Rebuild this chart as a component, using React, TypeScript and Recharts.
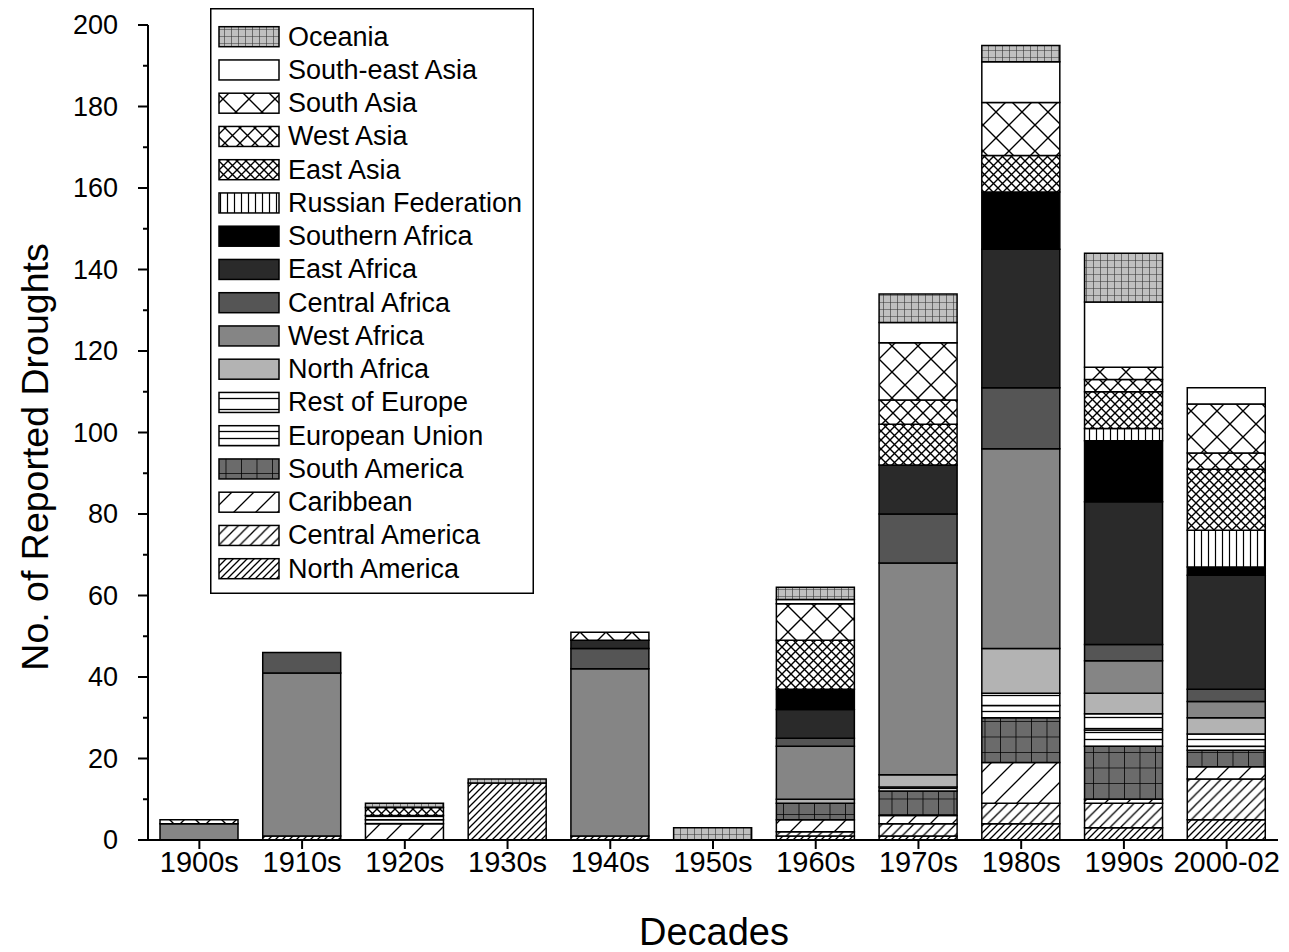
import React from 'react';
import { BarChart, Bar, XAxis, YAxis, Legend } from 'recharts';

// decades on the x axis
const decades = ['1900s', '1910s', '1920s', '1930s', '1940s', '1950s', '1960s', '1970s', '1980s', '1990s', '2000-02'];

// reported droughts per region, one value per decade
const northAmerica = [0, 1, 0, 14, 1, 0, 1, 1, 4, 3, 5];
const centralAmerica = [0, 0, 0, 0, 0, 0, 1, 3, 5, 6, 10];
const caribbean = [0, 0, 4, 0, 0, 0, 3, 2, 10, 1, 3];
const southAmerica = [0, 0, 0, 0, 0, 0, 4, 6, 11, 13, 4];
const europeanUnion = [0, 0, 1, 0, 0, 0, 0, 1, 3, 4, 1];
const restOfEurope = [0, 0, 1, 0, 0, 0, 0, 0, 3, 4, 3];
const northAfrica = [0, 0, 0, 0, 0, 0, 1, 3, 11, 5, 4];
const westAfrica = [4, 40, 0, 0, 41, 0, 13, 52, 49, 8, 4];
const centralAfrica = [0, 5, 0, 0, 5, 0, 2, 12, 15, 4, 3];
const eastAfrica = [0, 0, 0, 0, 2, 0, 7, 12, 34, 35, 28];
const southernAfrica = [0, 0, 0, 0, 0, 0, 5, 0, 14, 15, 2];
const russianFederation = [0, 0, 0, 0, 0, 0, 0, 0, 0, 3, 9];
const eastAsia = [0, 0, 2, 0, 0, 0, 12, 10, 9, 9, 15];
const westAsia = [0, 0, 0, 0, 0, 0, 0, 6, 0, 3, 4];
const southAsia = [1, 0, 0, 0, 2, 0, 9, 14, 13, 3, 12];
const southeastAsia = [0, 0, 0, 0, 0, 0, 1, 5, 10, 16, 4];
const oceania = [0, 0, 1, 1, 0, 3, 3, 7, 4, 12, 0];

const yTicks = [0, 10, 20, 30, 40, 50, 60, 70, 80, 90, 100, 110, 120, 130, 140, 150, 160, 170, 180, 190, 200];

// bottom of the stack first
const series = [
  { key: 'na', name: 'North America', values: northAmerica },
  { key: 'ca', name: 'Central America', values: centralAmerica },
  { key: 'car', name: 'Caribbean', values: caribbean },
  { key: 'sa', name: 'South America', values: southAmerica },
  { key: 'eu', name: 'European Union', values: europeanUnion },
  { key: 'roe', name: 'Rest of Europe', values: restOfEurope },
  { key: 'naf', name: 'North Africa', values: northAfrica },
  { key: 'waf', name: 'West Africa', values: westAfrica },
  { key: 'caf', name: 'Central Africa', values: centralAfrica },
  { key: 'eaf', name: 'East Africa', values: eastAfrica },
  { key: 'saf', name: 'Southern Africa', values: southernAfrica },
  { key: 'rf', name: 'Russian Federation', values: russianFederation },
  { key: 'eas', name: 'East Asia', values: eastAsia },
  { key: 'was', name: 'West Asia', values: westAsia },
  { key: 'sas', name: 'South Asia', values: southAsia },
  { key: 'sea', name: 'South-east Asia', values: southeastAsia },
  { key: 'oc', name: 'Oceania', values: oceania },
];

const data = decades.map((decade, i) => {
  const row: Record<string, any> = { decade };
  series.forEach((s) => { row[s.key] = s.values[i]; });
  return row;
});

const FONT = '"Liberation Sans", Arial, sans-serif';
const PLOT_LEFT = 140;

const solid: Record<string, string> = {
  sea: '#ffffff',
  saf: '#000000',
  eaf: '#2a2a2a',
  caf: '#555555',
  waf: '#858585',
  naf: '#b3b3b3',
};

const fillFor = (prefix: string, key: string) => solid[key] || `url(#${prefix}-${key})`;

function Patterns({ p }: { p: string }) {
  const diag = (key: string, s: number) => (
    <pattern id={`${p}-${key}`} width={s} height={s} patternUnits="userSpaceOnUse">
      <rect width={s} height={s} fill="#fff" />
      <path
        d={`M0,${s} L${s},0 M${-s / 4},${s / 4} L${s / 4},${-s / 4} M${(3 * s) / 4},${(5 * s) / 4} L${(5 * s) / 4},${(3 * s) / 4}`}
        stroke="#000"
        strokeWidth={1.3}
      />
    </pattern>
  );
  const cross = (key: string, s: number) => (
    <pattern id={`${p}-${key}`} width={s} height={s} patternUnits="userSpaceOnUse">
      <rect width={s} height={s} fill="#fff" />
      <path d={`M0,0 L${s},${s} M${s},0 L0,${s}`} stroke="#000" strokeWidth={1.4} />
    </pattern>
  );
  const hlines = (key: string, s: number) => (
    <pattern id={`${p}-${key}`} width={10} height={s} patternUnits="userSpaceOnUse">
      <rect width={10} height={s} fill="#fff" />
      <line x1={0} x2={10} y1={s / 2} y2={s / 2} stroke="#000" strokeWidth={1.3} />
    </pattern>
  );
  const grid = (key: string, s: number, bg: string, line: string, w: number) => (
    <pattern id={`${p}-${key}`} width={s} height={s} patternUnits="userSpaceOnUse">
      <rect width={s} height={s} fill={bg} />
      <path d={`M0,0 L${s},0 M0,0 L0,${s}`} stroke={line} strokeWidth={w} />
    </pattern>
  );
  return (
    <defs>
      {diag('na', 7)}
      {diag('ca', 10.5)}
      {diag('car', 22)}
      {grid('sa', 15.5, '#6b6b6b', '#000', 1.6)}
      {hlines('eu', 7)}
      {hlines('roe', 11)}
      <pattern id={`${p}-rf`} width={7} height={10} patternUnits="userSpaceOnUse">
        <rect width={7} height={10} fill="#fff" />
        <line x1={3.5} x2={3.5} y1={0} y2={10} stroke="#000" strokeWidth={1.2} />
      </pattern>
      {cross('eas', 9)}
      {cross('was', 15)}
      {cross('sas', 26)}
      {grid('oc', 7, '#c0c0c0', '#333', 1.2)}
    </defs>
  );
}

function YTick(props: any) {
  const { y, payload } = props;
  const v = payload.value;
  const major = v % 20 === 0;
  return (
    <g>
      <line x1={PLOT_LEFT - (major ? 10 : 5)} x2={PLOT_LEFT} y1={y} y2={y} stroke="#000" strokeWidth={2} />
      {major && (
        <text x={PLOT_LEFT - 30} y={y} textAnchor="end" dominantBaseline="central" fontSize={27} fontFamily={FONT} fill="#000">
          {v}
        </text>
      )}
    </g>
  );
}

function LegendBox() {
  const items = [...series].reverse();
  return (
    <svg width={324} height={586} style={{ display: 'block' }}>
      <Patterns p="lg" />
      <rect x={0.75} y={0.75} width={322.5} height={584.5} fill="#fff" stroke="#000" strokeWidth={1.5} />
      {items.map((s, i) => {
        const top = 18.7 + 33.25 * i;
        return (
          <g key={s.key}>
            <rect x={9} y={top} width={60} height={20} fill={fillFor('lg', s.key)} stroke="#000" strokeWidth={1.5} />
            <text x={78} y={top + 10} dominantBaseline="central" fontSize={27} fontFamily={FONT} fill="#000">
              {s.name}
            </text>
          </g>
        );
      })}
    </svg>
  );
}

export default function App() {
  return (
    <div style={{ width: 1281, height: 944, fontFamily: FONT, position: 'relative' }}>
      <BarChart width={1281} height={944} data={data} margin={{ top: 17, right: 11, left: 0, bottom: 0 }}>
        <Patterns p="pt" />
        <XAxis
          dataKey="decade"
          interval={0}
          height={112}
          tickSize={9}
          tickMargin={2}
          tick={{ fontSize: 29, fill: '#000', fontFamily: FONT }}
          axisLine={{ stroke: '#000', strokeWidth: 2 }}
          tickLine={{ stroke: '#000', strokeWidth: 2 }}
          label={{
            content: () => (
              <text x={706} y={924} textAnchor="middle" dominantBaseline="central" fontSize={38} fontFamily={FONT} fill="#000">
                Decades
              </text>
            ),
          }}
        />
        <XAxis xAxisId="top" dataKey="decade" orientation="top" height={0} tick={false} tickLine={false} axisLine={{ stroke: '#000', strokeWidth: 2 }} />
        <YAxis
          width={140}
          domain={[0, 200]}
          ticks={yTicks}
          interval={0}
          tickLine={false}
          tick={<YTick />}
          axisLine={{ stroke: '#000', strokeWidth: 2 }}
          label={{
            content: () => (
              <text
                x={27}
                y={449}
                transform="rotate(-90 27 449)"
                textAnchor="middle"
                dominantBaseline="central"
                fontSize={37.5}
                fontFamily={FONT}
                fill="#000"
              >
                No. of Reported Droughts
              </text>
            ),
          }}
        />
        <YAxis yAxisId="right" orientation="right" width={0} domain={[0, 200]} tick={false} tickLine={false} axisLine={{ stroke: '#000', strokeWidth: 2 }} />
        <Legend
          layout="vertical"
          align="center"
          verticalAlign="middle"
          content={() => <LegendBox />}
          wrapperStyle={{ left: 202, top: 0, width: 324, height: 586 }}
        />
        {series.map((s) => (
          <Bar
            key={s.key}
            dataKey={s.key}
            name={s.name}
            stackId="all"
            barSize={78}
            fill={fillFor('pt', s.key)}
            stroke="#000"
            strokeWidth={1.5}
            isAnimationActive={false}
          />
        ))}
      </BarChart>
    </div>
  );
}
